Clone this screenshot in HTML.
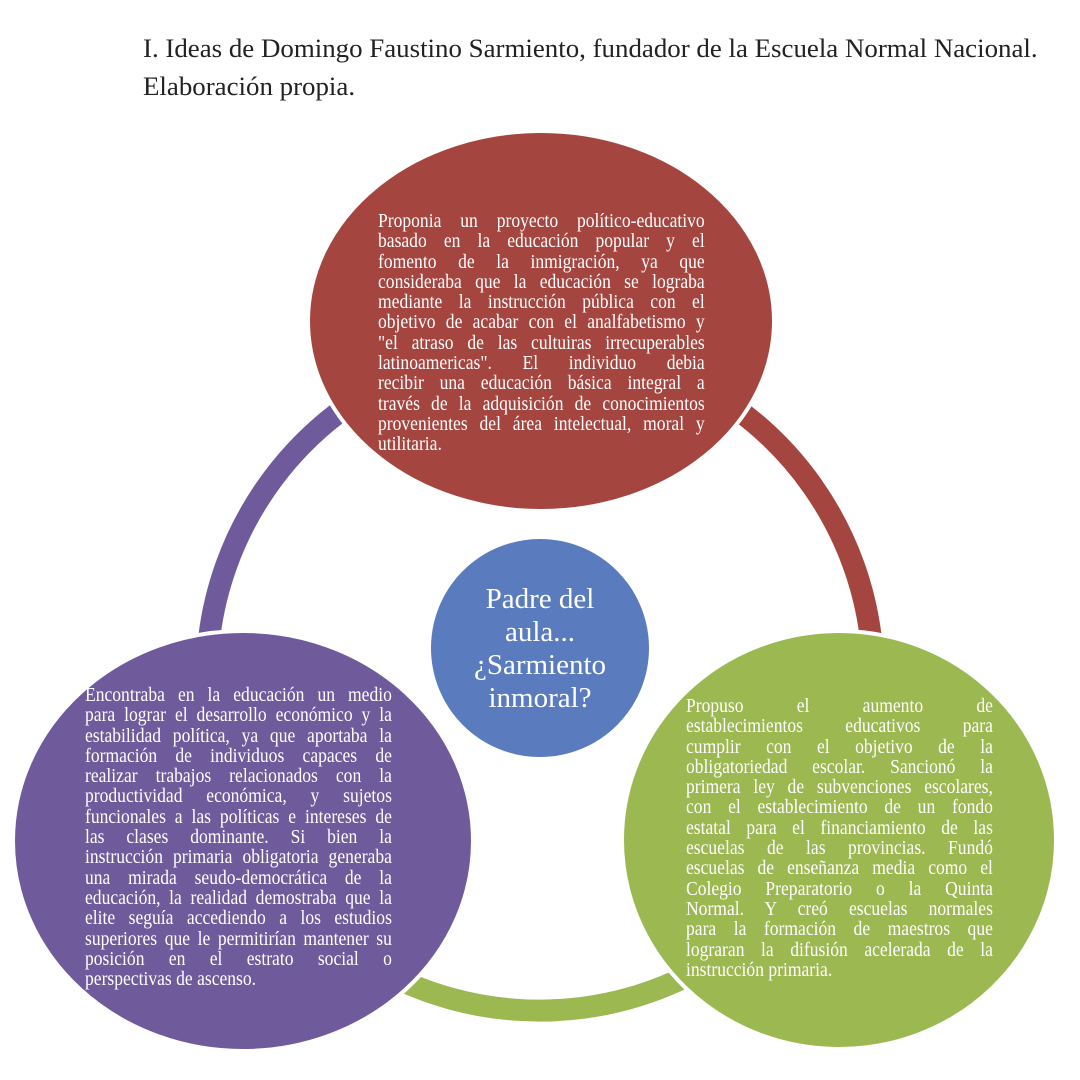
<!DOCTYPE html>
<html><head><meta charset="utf-8"><style>
body{margin:0;width:1080px;height:1080px;background:#fff;position:relative;overflow:hidden;font-family:"Liberation Serif",serif}
.t{position:absolute;left:143px;font-size:26.9px;color:#222;white-space:nowrap}
.b{position:absolute;color:#fff;font-size:19.5px;line-height:20.3px;transform:scaleX(0.9);transform-origin:left top;word-spacing:-4px}
.b div{text-align:justify;text-align-last:justify;white-space:nowrap}
.b div.l{text-align-last:left;word-spacing:0}
.c{position:absolute;left:420px;top:583px;width:240px;text-align:center;color:#fff;font-size:29px;line-height:33px}
</style></head><body>
<div class="t" style="top:33px">I. Ideas de Domingo Faustino Sarmiento, fundador de la Escuela Normal Nacional.</div>
<div class="t" style="top:71px">Elaboración propia.</div>
<svg width="1080" height="1080" style="position:absolute;left:0;top:0">
<g fill="none" stroke-width="22">
<path d="M208 649 A333 333 0 0 1 399 376" stroke="#6f5a9b"/>
<path d="M681 376 A333 333 0 0 1 872 649" stroke="#a5453f"/>
<path d="M706 966 A333 333 0 0 1 373 966" stroke="#9bb851"/>
</g>
<ellipse cx="541" cy="321" rx="233" ry="190" fill="#a5453f" stroke="#fff" stroke-width="4"/>
<ellipse cx="243" cy="841" rx="230" ry="210" fill="#6f5a9b" stroke="#fff" stroke-width="4"/>
<ellipse cx="839" cy="840" rx="217" ry="209" fill="#9bb851" stroke="#fff" stroke-width="4"/>
<circle cx="540" cy="648" r="111" fill="#5a7bbd" stroke="#fff" stroke-width="4"/>
</svg>
<div class="b" style="left:378px;top:212px;width:363px">
<div>Proponia un proyecto político-educativo</div>
<div>basado en la educación popular y el</div>
<div>fomento de la inmigración, ya que</div>
<div>consideraba que la educación se lograba</div>
<div>mediante la instrucción pública con el</div>
<div>objetivo de acabar con el analfabetismo y</div>
<div>"el atraso de las cultuiras irrecuperables</div>
<div>latinoamericas". El individuo debia</div>
<div>recibir una educación básica integral a</div>
<div>través de la adquisición de conocimientos</div>
<div>provenientes del área intelectual, moral y</div>
<div class="l">utilitaria.</div>
</div>
<div class="c">Padre del<br>aula...<br>¿Sarmiento<br>inmoral?</div>
<div class="b" style="left:85px;top:686px;width:341px">
<div>Encontraba en la educación un medio</div>
<div>para lograr el desarrollo económico y la</div>
<div>estabilidad política, ya que aportaba la</div>
<div>formación de individuos capaces de</div>
<div>realizar trabajos relacionados con la</div>
<div>productividad económica, y sujetos</div>
<div>funcionales a las políticas e intereses de</div>
<div>las clases dominante. Si bien la</div>
<div>instrucción primaria obligatoria generaba</div>
<div>una mirada seudo-democrática de la</div>
<div>educación, la realidad demostraba que la</div>
<div>elite seguía accediendo a los estudios</div>
<div>superiores que le permitirían mantener su</div>
<div>posición en el estrato social o</div>
<div class="l">perspectivas de ascenso.</div>
</div>
<div class="b" style="left:686px;top:697px;width:341px">
<div>Propuso el aumento de</div>
<div>establecimientos educativos para</div>
<div>cumplir con el objetivo de la</div>
<div>obligatoriedad escolar. Sancionó la</div>
<div>primera ley de subvenciones escolares,</div>
<div>con el establecimiento de un fondo</div>
<div>estatal para el financiamiento de las</div>
<div>escuelas de las provincias. Fundó</div>
<div>escuelas de enseñanza media como el</div>
<div>Colegio Preparatorio o la Quinta</div>
<div>Normal. Y creó escuelas normales</div>
<div>para la formación de maestros que</div>
<div>lograran la difusión acelerada de la</div>
<div class="l">instrucción primaria.</div>
</div>
</body></html>
